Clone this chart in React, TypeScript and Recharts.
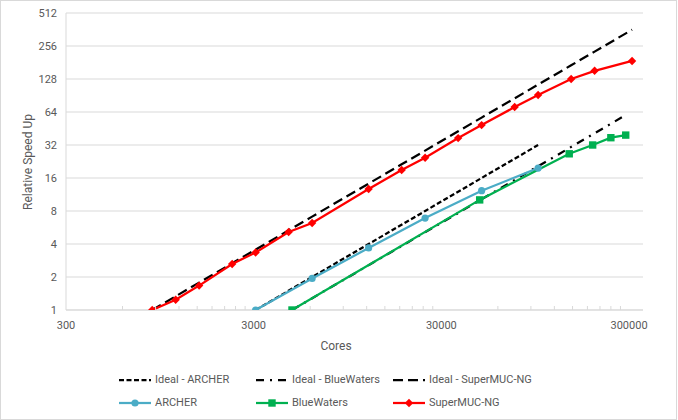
import React from 'react';
import { ComposedChart, Line, XAxis, YAxis, CartesianGrid } from 'recharts';

const FONT = 'Roboto, "Liberation Sans", Arial, sans-serif';
const TEXT = '#595959';
const GRID = '#d9d9d9';

const ARCHER_COLOR = '#4bacc6';
const BLUEWATERS_COLOR = '#00b050';
const SUPERMUC_COLOR = '#ff0000';

// axis ticks
const majorCoreTicks = [300, 3000, 30000, 300000];
const speedUpTicks = [1, 2, 4, 8, 16, 32, 64, 128, 256, 512];

// ARCHER
const archerCores = [3072, 6144, 12288, 24576, 49152, 98304];
const archerSpeedUp = [1, 1.94, 3.68, 6.9, 12.25, 19.7];
const archerIdeal = [1, 2, 4, 8, 16, 32];

// BlueWaters
const blueWatersCores = [4800, 48000, 144000, 192000, 240000, 288000];
const blueWatersSpeedUp = [1, 10.1, 26.6, 32, 37.3, 39.4];
const blueWatersIdeal = [1, 10, 30, 40, 50, 60];

// SuperMUC-NG
const superMucCores = [864, 1152, 1536, 2304, 3072, 4608, 6144, 12288, 18432, 24576, 36864, 49152, 73728, 98304, 147456, 196608, 311296];
const superMucSpeedUp = [1, 1.24, 1.67, 2.63, 3.35, 5.14, 6.22, 12.7, 18.9, 24.5, 37, 48.6, 71, 91.5, 128, 152, 187];
const superMucIdeal = [1, 1.333, 1.778, 2.667, 3.556, 5.333, 7.111, 14.22, 21.33, 28.44, 42.67, 56.89, 85.33, 113.8, 170.7, 227.6, 360.3];

// log minor ticks (2..9 x each decade) on the cores axis
const minorCoreTicks = majorCoreTicks.slice(0, 3).flatMap((t) => [2, 3, 4, 5, 6, 7, 8, 9].map((k) => t * k));
const coreTicks = [...majorCoreTicks, ...minorCoreTicks].sort((a, b) => a - b);

const toPoints = (xs: number[], ys: number[]) => xs.map((x, i) => ({ x, y: ys[i] }));

const IDEAL_ARCHER_DASH = '5 2.5';
const IDEAL_BW_DASH = '8 6 2 6';
const IDEAL_SMUC_DASH = '10 5';

function CoreTick({ x, y, payload }: any) {
  const major = majorCoreTicks.includes(payload.value);
  const axisY = y - 8;
  if (!major) {
    return <line x1={x} x2={x} y1={axisY - 4} y2={axisY} stroke={GRID} strokeWidth={1} />;
  }
  return (
    <text x={x} y={axisY} dy={19} textAnchor="middle" fontSize={11} fill={TEXT} fontFamily={FONT}>
      {payload.value}
    </text>
  );
}

function SpeedTick({ x, y, payload }: any) {
  return (
    <text x={x} y={y} dy={4} textAnchor="end" fontSize={11} fill={TEXT} fontFamily={FONT}>
      {payload.value}
    </text>
  );
}

const circleDot = (p: any) => <circle key={p.index} cx={p.cx} cy={p.cy} r={3.6} fill={ARCHER_COLOR} />;
const squareDot = (p: any) => (
  <rect key={p.index} x={p.cx - 3.7} y={p.cy - 3.7} width={7.4} height={7.4} fill={BLUEWATERS_COLOR} />
);
const diamondDot = (p: any) => (
  <path
    key={p.index}
    d={`M${p.cx},${p.cy - 4.2} L${p.cx + 4.2},${p.cy} L${p.cx},${p.cy + 4.2} L${p.cx - 4.2},${p.cy} Z`}
    fill={SUPERMUC_COLOR}
  />
);

function LegendIcon({ color, dash, marker }: { color: string; dash?: string; marker?: string }) {
  return (
    <svg width={32} height={12} style={{ display: 'block' }}>
      <line x1={0} x2={32} y1={6} y2={6} stroke={color} strokeWidth={2.25} strokeDasharray={dash} />
      {marker === 'circle' && <circle cx={16} cy={6} r={3.6} fill={color} />}
      {marker === 'square' && <rect x={12.3} y={2.3} width={7.4} height={7.4} fill={color} />}
      {marker === 'diamond' && <path d="M16,1.8 L20.2,6 L16,10.2 L11.8,6 Z" fill={color} />}
    </svg>
  );
}

const legendItems = [
  { name: 'Ideal - ARCHER', color: '#000', dash: IDEAL_ARCHER_DASH, left: 119, top: 374 },
  { name: 'Ideal - BlueWaters', color: '#000', dash: IDEAL_BW_DASH, left: 256, top: 374 },
  { name: 'Ideal - SuperMUC-NG', color: '#000', dash: IDEAL_SMUC_DASH, left: 393, top: 374 },
  { name: 'ARCHER', color: ARCHER_COLOR, marker: 'circle', left: 119, top: 397 },
  { name: 'BlueWaters', color: BLUEWATERS_COLOR, marker: 'square', left: 256, top: 397 },
  { name: 'SuperMUC-NG', color: SUPERMUC_COLOR, marker: 'diamond', left: 393, top: 397 },
];

export default function App() {
  return (
    <div
      style={{
        position: 'absolute',
        left: 0,
        top: 0,
        width: 675,
        height: 418,
        border: `1px solid ${GRID}`,
        background: '#fff',
        fontFamily: FONT,
      }}
    >
      <ComposedChart width={678} height={420} margin={{ top: 13, right: 35, left: 0, bottom: 80 }} style={{ position: 'absolute', left: -1, top: -1 }}>
        <CartesianGrid vertical={false} stroke={GRID} strokeWidth={1} />
        <XAxis
          dataKey="x"
          type="number"
          scale="log"
          domain={[300, 356000]}
          allowDataOverflow
          ticks={coreTicks}
          interval={0}
          tick={<CoreTick />}
          tickLine={false}
          tickSize={6}
          tickMargin={2}
          height={30}
          axisLine={{ stroke: GRID }}
        />
        <YAxis
          dataKey="y"
          type="number"
          scale="log"
          domain={[1, 512]}
          allowDataOverflow
          ticks={speedUpTicks}
          interval={0}
          tick={<SpeedTick />}
          tickLine={false}
          tickSize={6}
          tickMargin={3}
          width={66}
          axisLine={{ stroke: GRID }}
        />
        <Line data={toPoints(archerCores, archerIdeal)} dataKey="y" name="Ideal - ARCHER" stroke="#000" strokeWidth={2.25} strokeDasharray={IDEAL_ARCHER_DASH} dot={false} activeDot={false} isAnimationActive={false} />
        <Line data={toPoints(blueWatersCores, blueWatersIdeal)} dataKey="y" name="Ideal - BlueWaters" stroke="#000" strokeWidth={2.25} strokeDasharray={IDEAL_BW_DASH} dot={false} activeDot={false} isAnimationActive={false} />
        <Line data={toPoints(superMucCores, superMucIdeal)} dataKey="y" name="Ideal - SuperMUC-NG" stroke="#000" strokeWidth={2.25} strokeDasharray={IDEAL_SMUC_DASH} dot={false} activeDot={false} isAnimationActive={false} />
        <Line data={toPoints(archerCores, archerSpeedUp)} dataKey="y" name="ARCHER" stroke={ARCHER_COLOR} strokeWidth={2.25} dot={circleDot} activeDot={false} isAnimationActive={false} />
        <Line data={toPoints(blueWatersCores, blueWatersSpeedUp)} dataKey="y" name="BlueWaters" stroke={BLUEWATERS_COLOR} strokeWidth={2.25} dot={squareDot} activeDot={false} isAnimationActive={false} />
        <Line data={toPoints(superMucCores, superMucSpeedUp)} dataKey="y" name="SuperMUC-NG" stroke={SUPERMUC_COLOR} strokeWidth={2.25} dot={diamondDot} activeDot={false} isAnimationActive={false} />
      </ComposedChart>

      <div
        style={{
          position: 'absolute',
          left: 27,
          top: 161,
          transform: 'translate(-50%, -50%) rotate(-90deg)',
          whiteSpace: 'nowrap',
          fontSize: 12,
          color: TEXT,
        }}
      >
        Relative Speed Up
      </div>
      <div
        style={{
          position: 'absolute',
          left: 335,
          top: 345,
          transform: 'translate(-50%, -50%)',
          whiteSpace: 'nowrap',
          fontSize: 12,
          color: TEXT,
        }}
      >
        Cores
      </div>

      {legendItems.map((it) => (
        <div
          key={it.name}
          style={{ position: 'absolute', left: it.left - 1, top: it.top - 1, display: 'flex', alignItems: 'center', gap: 4, height: 12 }}
        >
          <LegendIcon color={it.color} dash={it.dash} marker={it.marker} />
          <span style={{ fontSize: 11, color: TEXT, whiteSpace: 'nowrap', lineHeight: '12px' }}>{it.name}</span>
        </div>
      ))}
    </div>
  );
}
